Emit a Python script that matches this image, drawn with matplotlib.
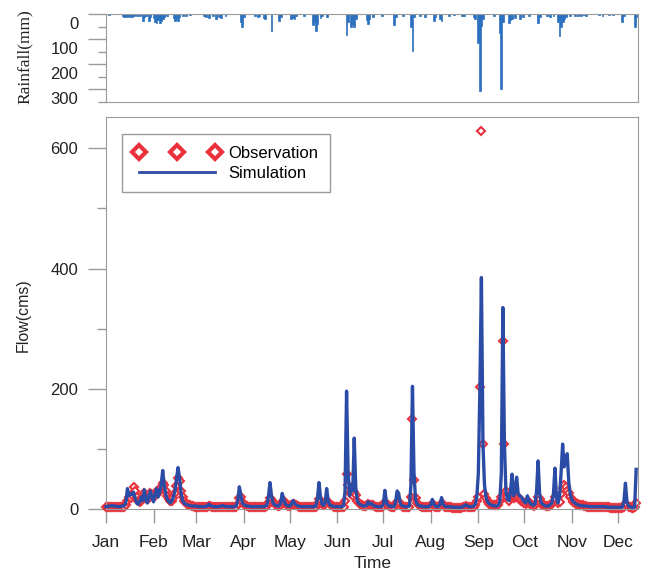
import numpy as np
import matplotlib
matplotlib.use("Agg")
import matplotlib.pyplot as plt
import matplotlib.transforms as mtransforms

# daily simulated flow (cms), one list per month, day 0 = Jan 1
sim_jan = [4,4,5,5,6,5,5,4,4,4,5,5,6,12,34,22,26,24,28,18,10,8,12,20,14,32,16,10,22,30,18]
sim_feb = [12,24,34,20,28,40,64,40,24,16,12,10,14,20,30,50,69,52,26,14,10,8,7,6,6,5,5,5]
sim_mar = [5,4,4,4,4,4,4,5,8,6,5,4,4,4,4,4,5,6,5,4,4,4,4,4,4,4,5,14,37,24,10]
sim_apr = [7,6,5,5,4,4,4,4,4,4,4,4,4,4,5,6,20,44,22,10,7,6,5,5,10,26,16,8,6,5]
sim_may = [5,8,14,10,7,5,5,4,4,4,4,4,4,4,4,4,4,5,18,44,20,8,6,10,34,14,7,5,5,4,4]
sim_jun = [4,4,4,4,5,30,196,60,22,40,30,118,36,14,9,7,6,5,5,6,12,8,10,7,5,5,4,4,4,4]
sim_jul = [8,31,12,6,5,5,4,4,12,30,26,10,6,5,4,4,4,5,40,204,60,16,8,6,5,5,4,4,4,4,4]
sim_aug = [8,16,8,5,4,4,8,19,8,5,4,4,4,4,3,3,3,3,3,3,3,4,6,7,5,4,4,4,5,8,20]
sim_sep = [60,200,385,110,40,20,12,9,7,6,6,5,5,6,12,60,335,110,30,16,14,30,58,22,30,53,25,22,20,16]
sim_oct = [12,10,22,14,9,7,6,8,30,80,25,10,8,6,5,5,5,8,10,25,68,18,10,20,60,108,70,80,92,45,25]
sim_nov = [16,12,10,8,7,6,6,5,5,5,5,4,4,4,4,4,4,4,4,4,4,4,4,3,3,3,3,3,3,3]
sim_dec = [3,3,3,3,12,43,12,5,4,3,3,3,66]

# daily observed flow (cms)
obs_jan = [3,3,3,4,4,4,4,3,3,3,3,4,4,6,14,20,18,24,36,30,20,14,12,14,16,26,22,16,18,26,24]
obs_feb = [20,26,30,26,30,36,44,40,30,22,16,14,14,18,26,38,52,47,30,20,14,10,8,7,6,5,5,4]
obs_mar = [4,4,3,3,3,3,3,4,5,5,4,3,3,3,3,3,3,4,4,3,3,3,3,3,3,3,4,8,18,20,12]
obs_apr = [8,6,5,4,4,3,3,3,3,3,3,3,3,3,4,5,10,18,16,12,8,6,5,5,7,12,14,10,7,5]
obs_may = [5,6,9,9,7,5,4,4,3,3,3,3,3,3,3,3,3,4,8,16,14,9,7,8,14,12,8,6,5,4,4]
obs_jun = [3,3,3,3,4,14,59,40,27,25,22,29,24,14,10,8,6,5,5,5,8,7,7,6,5,4,4,3,3,3]
obs_jul = [5,12,9,6,5,4,4,3,7,12,12,8,5,4,3,3,3,4,20,149,49,19,10,7,5,4,4,3,3,3,3]
obs_aug = [4,8,6,4,3,3,5,10,6,4,3,3,3,3,2,2,2,2,2,2,2,3,4,5,4,3,3,3,4,6,14]
obs_sep = [20,203,628,108,25,18,12,9,8,7,6,6,6,7,14,20,279,108,30,20,14,18,24,18,20,22,18,16,14,12]
obs_oct = [10,9,12,12,8,6,5,6,10,20,16,9,7,6,5,5,5,6,8,12,20,16,10,12,25,35,40,36,30,26,20]
obs_nov = [16,12,10,9,8,7,6,6,5,5,4,4,4,4,3,3,3,3,3,3,3,3,3,3,3,2,2,2,2,2]
obs_dec = [2,2,2,2,4,8,6,4,3,2,2,3,10]

# rainfall (mm) on rainy days
rain_day = [2,11,12,13,14,15,16,17,18,20,22,24,25,26,28,29,31,32,33,34,35,36,37,38,40,
            44,45,46,47,48,50,52,55,64,65,67,70,72,74,75,78,88,89,90,97,99,100,103,104,
            108,113,114,121,122,123,124,129,135,136,137,138,140,141,144,157,158,160,161,
            162,163,170,171,172,174,180,188,189,194,199,200,201,205,208,214,215,218,219,
            224,227,232,233,234,240,241,243,244,245,246,253,257,258,259,263,264,265,267,
            270,272,276,282,283,288,290,292,295,296,297,298,299,300,303,306,308,310,312,
            313,322,324,328,331,337,338,345,346]
rain_mm = [4,8,10,12,6,13,8,10,6,9,8,27,10,6,27,12,14,30,35,22,37,26,18,12,8,
           14,27,20,27,10,6,8,5,8,10,14,8,20,12,16,6,30,53,12,6,10,8,14,20,
           67,27,10,18,14,21,8,6,44,30,67,40,14,6,10,84,30,50,40,
           50,20,24,40,20,10,6,44,10,8,53,148,10,6,10,27,10,20,27,
           6,4,8,8,6,10,20,117,306,48,20,6,77,300,30,37,24,20,14,
           20,10,6,37,10,6,10,8,30,88,50,30,20,10,8,6,8,6,5,
           6,5,6,5,4,30,8,50,10]

months = ["Jan", "Feb", "Mar", "Apr", "May", "Jun", "Jul", "Aug", "Sep", "Oct", "Nov", "Dec"]
month_start = [0, 31, 59, 90, 120, 151, 181, 212, 243, 273, 304, 334]

sim = np.array(sim_jan + sim_feb + sim_mar + sim_apr + sim_may + sim_jun +
               sim_jul + sim_aug + sim_sep + sim_oct + sim_nov + sim_dec, dtype=float)
obs = np.array(obs_jan + obs_feb + obs_mar + obs_apr + obs_may + obs_jun +
               obs_jul + obs_aug + obs_sep + obs_oct + obs_nov + obs_dec, dtype=float)
days = np.arange(len(sim))

plt.rcParams['font.family'] = ['Liberation Sans', 'DejaVu Sans']
spine_col = "#9a9a9a"
blue = "#2b4ca6"
red = "#e8323c"
rain_col = "#2a70be"
txt = "#222222"

fig = plt.figure(figsize=(6.56, 5.72), dpi=100)
ax_r = fig.add_axes([0.1616, 0.8217, 0.8105, 0.1538])
ax = fig.add_axes([0.1616, 0.1101, 0.8105, 0.6853])

# rainfall panel (bars hang from the top)
ax_r.bar(rain_day, rain_mm, width=1.2, color=rain_col, edgecolor=rain_col, linewidth=0.5)
ax_r.set_xlim(0, 347)
ax_r.set_ylim(350, 0)
ax_r.set_yticks([0, 100, 200, 300])
ax_r.set_yticks([50, 150, 250, 350], minor=True)
ax_r.set_xticks([])
ax_r.tick_params(axis='y', which='major', length=13, width=1, color=spine_col,
                 labelsize=12, pad=7, labelcolor=txt)
ax_r.tick_params(axis='y', which='minor', length=6, width=1, color=spine_col)
offset = mtransforms.ScaledTranslation(0, -0.09, fig.dpi_scale_trans)
for lab in ax_r.get_yticklabels():
    lab.set_transform(lab.get_transform() + offset)
for s in ax_r.spines.values():
    s.set_color(spine_col)

# flow panel
ax.plot(days, obs, linestyle='none', marker='D', markersize=3.6, markerfacecolor='white',
        markeredgecolor=red, markeredgewidth=1.5, clip_on=False, zorder=2, label="Observation")
ax.plot(days, sim, color=blue, linewidth=2.4, clip_on=False, zorder=3, label="Simulation")
ax.set_xlim(0, 347)
ax.set_ylim(0, 652)
ax.set_yticks([0, 200, 400, 600])
ax.set_yticks([100, 300, 500], minor=True)
ax.set_xticks(month_start)
ax.set_xticklabels(months)
ax.tick_params(axis='y', which='major', length=13, width=1, color=spine_col,
               labelsize=12, pad=7, labelcolor=txt)
ax.tick_params(axis='y', which='minor', length=6.5, width=1, color=spine_col)
ax.tick_params(axis='x', which='major', length=10, width=1, color=spine_col,
               labelsize=12.5, pad=9, labelcolor=txt)
for s in ax.spines.values():
    s.set_color(spine_col)

leg = ax.legend(loc='upper left', bbox_to_anchor=(0.030, 0.957), borderaxespad=0,
                numpoints=3, fontsize=12, handlelength=5.2,
                handletextpad=0.5, labelspacing=0.3, fancybox=False,
                edgecolor=spine_col, framealpha=1, borderpad=0.7)
leg.get_frame().set_linewidth(1)
h_obs = leg.legend_handles[0]
h_obs.set_markersize(7)
h_obs.set_markeredgewidth(3)
leg.legend_handles[1].set_linewidth(2)

fig.text(25 / 656, 1 - 57 / 572, "Rainfall(mm)", rotation=90, ha='center', va='center',
         fontsize=12.5, family='Liberation Serif', color=txt)
fig.text(23 / 656, 1 - 315 / 572, "Flow(cms)", rotation=90, ha='center', va='center',
         fontsize=11.5, color=txt)
fig.text(373 / 656, 1 - 563 / 572, "Time", ha='center', va='center',
         fontsize=12.5, color=txt)

fig.savefig("out.png", dpi=100)
